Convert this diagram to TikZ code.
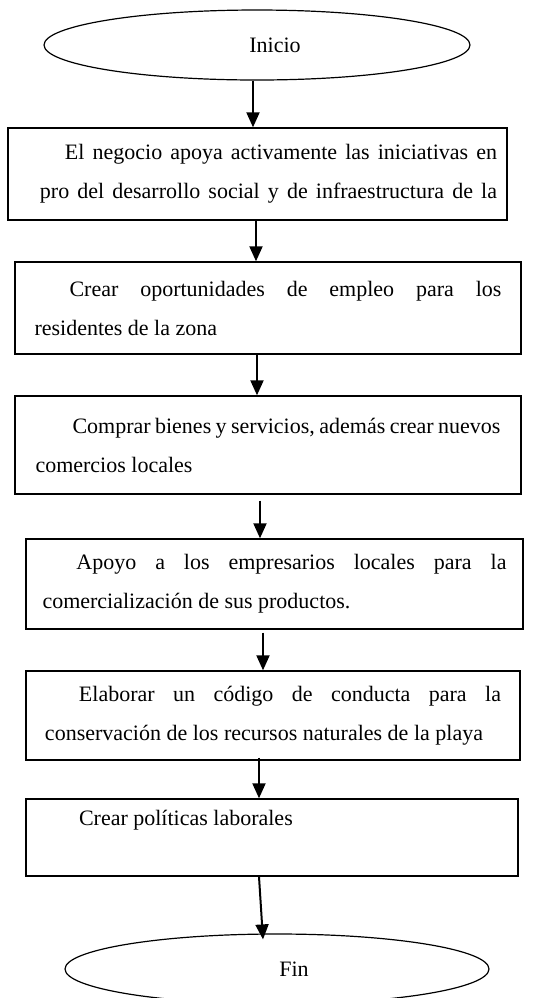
\documentclass[tikz,border=0pt]{standalone}
\usepackage{fontspec}
\setmainfont{Liberation Serif}
\usepackage{tikz}
\usetikzlibrary{shapes.geometric,arrows.meta}
\newcommand{\espnormal}{\spaceskip=0pt\xspaceskip=0pt\relax}

\begin{document}
\begin{tikzpicture}[x=0.5pt,y=-0.5pt,
  caja/.style={rectangle, draw, line width=0.7pt, inner xsep=0pt, inner ysep=0pt, align=left, font=\fontsize{11}{19.5}\selectfont},
  extremo/.style={ellipse, draw, line width=0.6pt, inner sep=0pt, minimum width=213pt, minimum height=35pt, font=\fontsize{11}{13}\selectfont},
  flecha/.style={-{Triangle[length=7.5pt,width=6.5pt]}, line width=1pt}]
\useasboundingbox (0,0) rectangle (555,998);

\node[extremo] (inicio) at (257,45) {\hspace*{18pt}Inicio};

\node[caja, minimum width=249.5pt, minimum height=46pt, text width=239.5pt] (p1) at (257.5,174) {\espnormal\hspace*{23.5pt}\makebox[216pt][s]{El negocio apoya activamente las iniciativas en}\\
  \hspace*{11pt}\makebox[228.5pt][s]{pro del desarrollo social y de infraestructura de la}};

\node[caja, minimum width=253pt, minimum height=46pt, text width=233.5pt] (p2) at (268,308) {\espnormal\hspace*{17.5pt}\makebox[216pt][s]{Crear oportunidades de empleo para los}\\
  residentes de la zona};

\node[caja, minimum width=253pt, minimum height=49pt, text width=232.5pt] (p3) at (268,445) {\espnormal\hspace*{18.5pt}\makebox[214pt][s]{Comprar bienes y servicios, además crear nuevos}\\
  comercios locales};

\node[caja, minimum width=248.5pt, minimum height=45pt, text width=232pt] (p4) at (274.5,584) {\espnormal\hspace*{17pt}\makebox[215pt][s]{Apoyo a los empresarios locales para la}\\
  comercialización de sus productos.};

\node[caja, minimum width=247pt, minimum height=44.5pt, text width=228pt] (p5) at (273,715.5) {\espnormal\hspace*{17pt}\makebox[211pt][s]{Elaborar un código de conducta para la}\\
  \mbox{conservación de los recursos naturales de la playa}};

\node[caja, minimum width=246pt, minimum height=38.5pt, text width=228pt] (p6) at (272,837.5) {\espnormal\hspace*{17.5pt}Crear políticas laborales\\ \mbox{}};

\node[extremo, minimum width=212pt] (fin) at (277,969) {\hspace*{17pt}Fin};

\draw[flecha] ([xshift=-2pt]inicio.south) coordinate (s1) -- (s1 |- p1.north);
\draw[flecha] ([xshift=-0.75pt]p1.south) coordinate (s2) -- (s2 |- p2.north);
\draw[flecha] ([xshift=-5.5pt]p2.south) coordinate (s3) -- (s3 |- p3.north);
\draw[flecha, shorten <=3pt] ([xshift=-4pt]p3.south) coordinate (s4) -- (s4 |- p4.north);
\draw[flecha, shorten <=1.5pt] ([xshift=-5.75pt]p4.south) coordinate (s5) -- (s5 |- p5.north);
\draw[flecha] ([xshift=-7pt,yshift=1.5pt]p5.south) coordinate (s6) -- (s6 |- p6.north);
\draw[flecha] ([xshift=-6.5pt]p6.south) -- ([xshift=-7pt,yshift=-3pt]fin.north);
\end{tikzpicture}
\end{document}
